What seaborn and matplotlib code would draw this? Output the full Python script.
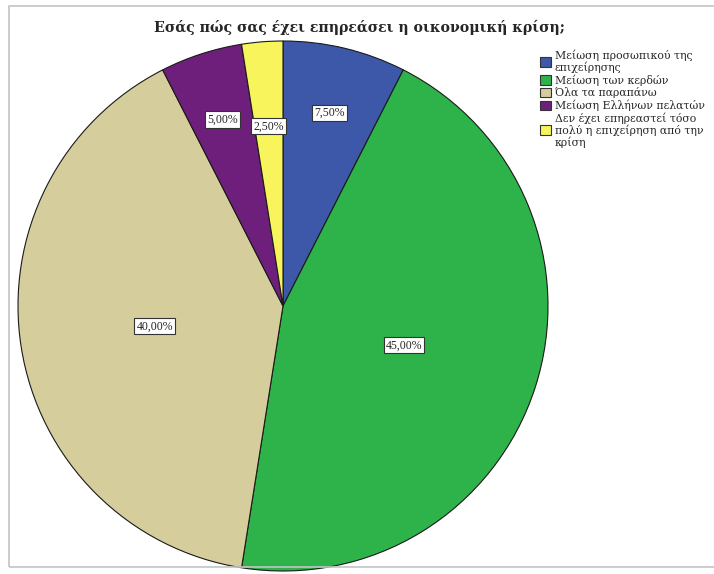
import numpy as np
import matplotlib
matplotlib.use("Agg")
import matplotlib.pyplot as plt
from matplotlib.patches import Rectangle
import seaborn as sns

sns.set_theme(style="white")
plt.rcParams["font.family"] = ["Liberation Serif", "DejaVu Serif"]

title = "Εσάς πώς σας έχει επηρεάσει η οικονομική κρίση;"
categories = [
    "Μείωση προσωπικού της\nεπιχείρησης",
    "Μείωση των κερδών",
    "Όλα τα παραπάνω",
    "Μείωση Ελλήνων πελατών",
    "Δεν έχει επηρεαστεί τόσο\nπολύ η επιχείρηση από την\nκρίση",
]
percentages = [7.5, 45.0, 40.0, 5.0, 2.5]

colors = ["#3d58a8", "#2db34a", "#d5cd9b", "#6e1f7c", "#f8f45c"]
label_radius = [0.75, 0.48, 0.49, 0.74, 0.68]

fig = plt.figure(figsize=(7.14, 5.74), dpi=100)
fig.patches.append(Rectangle((9 / 714, 7 / 574), 710 / 714, 561 / 574,
                             transform=fig.transFigure, fill=False,
                             edgecolor="#c4c4c4", linewidth=1.2))

ax = fig.add_axes([18 / 714, 3 / 574, 530 / 714, 530 / 574])
wedges, _ = ax.pie(percentages, colors=colors, startangle=90, counterclock=False,
                   wedgeprops=dict(edgecolor="#1a1a1a", linewidth=0.8))
ax.set_xlim(-1.0, 1.0)
ax.set_ylim(-1.0, 1.0)
ax.set_aspect("equal")

for w, p, r in zip(wedges, percentages, label_radius):
    mid = np.deg2rad((w.theta1 + w.theta2) / 2)
    ax.text(r * np.cos(mid), r * np.sin(mid), f"{p:.2f}%".replace(".", ","),
            ha="center", va="center", fontsize=8.5,
            bbox=dict(boxstyle="square,pad=0.18", facecolor="white",
                      edgecolor="#333333", linewidth=0.8))

fig.text(0.503, 0.952, title, ha="center", va="center", fontsize=10.2,
         fontweight="bold", family="DejaVu Serif")

leg = fig.legend(wedges, categories, loc="upper left", bbox_to_anchor=(0.757, 0.913),
                 frameon=False, prop=dict(family="DejaVu Serif", size=7.8),
                 handlelength=1.0, handleheight=1.0,
                 handletextpad=0.3, labelspacing=0.12, borderaxespad=0, borderpad=0)
for h in leg.legend_handles:
    h.set_edgecolor("#333333")
    h.set_linewidth(0.8)
for t in leg.get_texts():
    t.set_linespacing(1.05)

fig.savefig("out.png", dpi=100)
